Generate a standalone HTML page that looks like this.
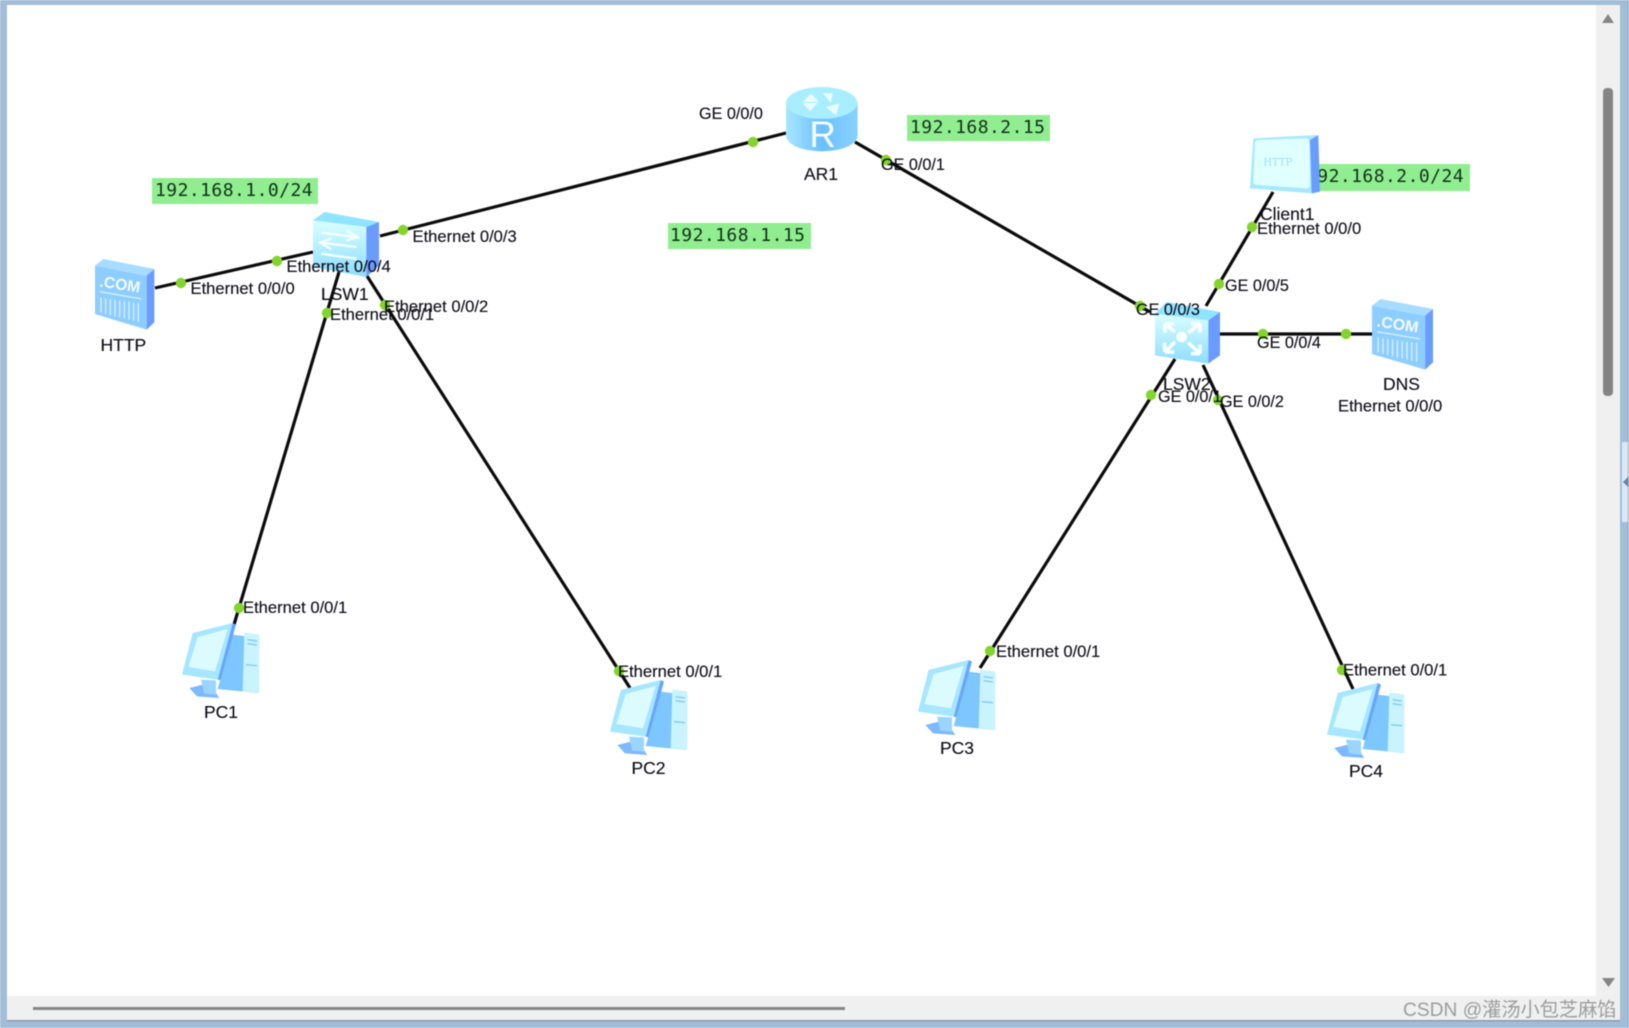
<!DOCTYPE html>
<html><head><meta charset="utf-8"><style>
html,body{margin:0;padding:0;background:#fff}
svg{display:block;position:absolute;left:0;top:0;filter:blur(.45px)}
text{font-family:"Liberation Sans",sans-serif;font-size:16.6px;fill:#0c0c16;stroke:#0c0c16;stroke-width:.12px}
.g{font-size:16.2px}
.n{font-size:17.5px}
.m{font-family:"DejaVu Sans Mono","Liberation Mono",monospace;font-size:18px;letter-spacing:.45px;fill:#12301a;stroke:none}
</style></head><body style="width:1629px;height:1028px;overflow:hidden">
<svg width="1629" height="1028" viewBox="0 0 1629 1028" xmlns="http://www.w3.org/2000/svg">
<defs>
<linearGradient id="f" x1="0" y1="0" x2="0" y2="1"><stop offset="0" stop-color="#d9ffff"/><stop offset="1" stop-color="#8fdcff"/></linearGradient>
<linearGradient id="r" x1="0" y1="0" x2="1" y2="0"><stop offset="0" stop-color="#a9e6ff"/><stop offset=".5" stop-color="#6cc0ff"/><stop offset="1" stop-color="#88d2ff"/></linearGradient>
<g id="server">
<polygon points="0,20 155,50 155,212 0,165" fill="#8ecdff"/>
<polygon points="0,20 25,0 178,30 155,50" fill="#a6dcff"/>
<polygon points="155,50 178,30 178,190 155,212" fill="#6a9cff"/>
<text x="12" y="82" transform="rotate(9 12 82)" style="font-size:47px;font-weight:700;fill:#f2fbff;stroke:none">.COM</text>
<path d="M15,98 L140,120 M18,115 V160 M32,118 V165 M46,120 V168 M60,122 V172 M74,124 V175 M88,126 V178 M102,128 V182 M116,130 V185 M130,132 V188" stroke="#d6f1ff" stroke-width="4" fill="none"/>
</g>
<g id="pc">
<polygon points="155,35 235,45 230,210 110,198" fill="#7ec6ff"/>
<polygon points="190,28 235,35 235,210 185,205" fill="#c9f3ff"/>
<path d="M200,50 L228,54 M200,62 L228,66 M195,125 L228,128" stroke="#7fc9f5" stroke-width="4"/>
<polygon points="35,30 155,0 110,170 3,155" fill="#a6e6ff"/>
<polygon points="50,42 140,18 102,145 22,132" fill="#dcfbff"/>
<polygon points="155,0 165,5 118,172 110,170" fill="#66a6ff"/>
<polygon points="25,195 85,180 115,225 48,220" fill="#7eb8ff"/>
<polygon points="60,170 105,172 105,215 70,212" fill="#9bd5ff"/>
</g>
</defs>
<rect width="1629" height="1028" fill="#a2bdd8"/>
<rect x="7" y="5" width="1613" height="1015" fill="#f0f0f0"/>
<rect x="7" y="1020" width="1613" height="1.5" fill="#8c9aaa"/>
<rect x="7" y="5" width="1589" height="991" fill="#fff"/>
<rect x="33" y="1007" width="812" height="3" fill="#858585"/>
<rect x="1603" y="88" width="10" height="308" rx="4" fill="#858585"/>
<polygon points="1602,23 1614,23 1608,14" fill="#858585"/>
<polygon points="1602,978 1615,978 1608.5,987" fill="#858585"/>
<rect x="1622" y="442" width="7" height="80" fill="#dce9f5"/>
<polygon points="1623,482 1629,476 1629,488" fill="#5f86a8"/>
<rect x="1627.5" y="0" width="1.5" height="1028" fill="#8ba4bc" opacity=".6"/>

<rect x="152" y="178" width="166" height="26" fill="#90ee90"/>
<rect x="907" y="115" width="143" height="26" fill="#90ee90"/>
<rect x="668" y="223" width="143" height="26" fill="#90ee90"/>
<rect x="1300" y="164" width="170" height="27" fill="#90ee90"/>
<text class="m" x="155" y="196">192.168.1.0/24</text>
<text class="m" x="910" y="133">192.168.2.15</text>
<text class="m" x="670" y="241">192.168.1.15</text>
<text class="m" x="1306" y="182">192.168.2.0/24</text>

<g stroke="#0a0a0a" stroke-width="3.2" fill="none">
<line x1="155" y1="288" x2="313" y2="252"/>
<line x1="380" y1="236" x2="786" y2="133"/>
<line x1="855" y1="142" x2="1150" y2="312"/>
<line x1="339" y1="272" x2="233" y2="628"/>
<line x1="367" y1="276" x2="630" y2="688"/>
<line x1="1273" y1="192" x2="1206" y2="306"/>
<line x1="1220" y1="334" x2="1372" y2="334"/>
<line x1="1175" y1="359" x2="980" y2="668"/>
<line x1="1203" y1="365" x2="1353" y2="689"/>
</g>
<g fill="#84d42e">
<circle cx="181" cy="283" r="5.2"/><circle cx="277" cy="261" r="5.2"/><circle cx="403" cy="230" r="5.2"/>
<circle cx="327" cy="313" r="5.2"/><circle cx="385" cy="305" r="5.2"/><circle cx="753" cy="142" r="5.2"/>
<circle cx="886" cy="160" r="5.2"/><circle cx="1252" cy="227" r="5.2"/><circle cx="1219" cy="284" r="5.2"/>
<circle cx="1140" cy="306" r="5.2"/><circle cx="1263" cy="334" r="5.2"/><circle cx="1346" cy="334" r="5.2"/>
<circle cx="1151" cy="395" r="5.2"/><circle cx="1218" cy="400" r="5.2"/><circle cx="239" cy="608" r="5.2"/>
<circle cx="619" cy="671" r="5.2"/><circle cx="990" cy="651" r="5.2"/><circle cx="1342" cy="670" r="5.2"/>
</g>

<use href="#server" transform="translate(95,259) scale(.3333)"/>
<use href="#server" transform="translate(1372,299) scale(.3427,.3333)"/>

<g transform="translate(313,212) scale(.3333)">
<polygon points="0,25 160,45 160,195 0,165" fill="url(#f)"/>
<polygon points="0,25 35,0 198,30 160,45" fill="#90e4ff"/>
<polygon points="160,45 198,30 198,160 160,195" fill="#6a9cff"/>
<path d="M25,62 L130,75 M100,55 L135,76 L100,85 M130,105 L25,92 M55,80 L22,92 L55,112 M25,125 L130,140" stroke="#f5ffff" stroke-width="7" fill="none"/>
</g>
<g transform="translate(1155,302) scale(.3333)">
<polygon points="0,35 160,55 160,185 0,160" fill="url(#f)"/>
<polygon points="0,35 35,0 195,30 160,55" fill="#90e4ff"/>
<polygon points="160,55 195,30 195,160 160,185" fill="#6a9cff"/>
<circle cx="80" cy="105" r="16" fill="#f8ffff"/>
<path d="M30,65 L60,90 M30,65 L58,65 M30,65 L30,92 M135,65 L100,92 M135,65 L108,65 M135,65 L135,92 M30,150 L60,120 M30,150 L28,122 M30,150 L58,150 M135,155 L100,122 M135,155 L135,128 M135,155 L108,155" stroke="#f8ffff" stroke-width="11" fill="none"/>
</g>
<g transform="translate(786,87) scale(.3333)">
<path d="M0,48 V145 A107,48 0 0 0 215,145 V48 Z" fill="url(#r)"/>
<ellipse cx="107" cy="48" rx="107" ry="48" fill="#a9eeff"/>
<path d="M50,48 L95,48 L72,72 Z M110,18 L140,18 L135,48 Z M120,60 L160,50 L150,85 Z M75,20 L100,45 L50,45 Z" fill="#eafcff"/>
<text x="70" y="180" style="font-size:110px;fill:#f5ffff;stroke:none">R</text>
</g>
<g transform="translate(1250,135) scale(.3333)">
<polygon points="10,10 200,0 210,170 185,175 0,160" fill="#a8e8ff"/>
<polygon points="180,15 205,0 210,170 185,175" fill="#6a9cff"/>
<path d="M25,15 L170,10 Q178,10 178,20 L180,150 Q180,160 170,160 L20,150 Q10,148 10,140 L15,25 Q15,16 25,15 Z" fill="#e0ffff"/>
<text x="40" y="92" style="font-family:'DejaVu Serif','Liberation Serif',serif;font-size:30px;fill:#9fdcf5;stroke:none">HTTP</text>
</g>
<use href="#pc" transform="translate(181,623) scale(.3333)"/>
<use href="#pc" transform="translate(609,680) scale(.3333)"/>
<use href="#pc" transform="translate(917,660) scale(.3333)"/>
<use href="#pc" transform="translate(1326,683) scale(.3333)"/>

<text x="190.5" y="294">Ethernet 0/0/0</text>
<text x="286.5" y="272">Ethernet 0/0/4</text>
<text x="412.5" y="242">Ethernet 0/0/3</text>
<text x="384" y="312">Ethernet 0/0/2</text>
<text x="330" y="320">Ethernet 0/0/1</text>
<text class="g" x="699" y="119">GE 0/0/0</text>
<text class="g" x="881" y="170">GE 0/0/1</text>
<text x="1257" y="234">Ethernet 0/0/0</text>
<text class="g" x="1225" y="291">GE 0/0/5</text>
<text class="g" x="1136" y="315">GE 0/0/3</text>
<text class="g" x="1257" y="348">GE 0/0/4</text>
<text class="g" x="1158" y="402">GE 0/0/1</text>
<text class="g" x="1220" y="407">GE 0/0/2</text>
<text x="1338" y="411.5">Ethernet 0/0/0</text>
<text x="243" y="613">Ethernet 0/0/1</text>
<text x="618" y="677">Ethernet 0/0/1</text>
<text x="996" y="657">Ethernet 0/0/1</text>
<text x="1343" y="675.5">Ethernet 0/0/1</text>

<text class="n" x="321" y="300">LSW1</text>
<text class="n" x="100.5" y="351">HTTP</text>
<text class="n" x="804" y="180">AR1</text>
<text class="n" x="1260" y="220">Client1</text>
<text class="n" x="1163" y="390">LSW2</text>
<text class="n" x="1383" y="390">DNS</text>
<text class="n" x="204" y="718">PC1</text>
<text class="n" x="631.5" y="774">PC2</text>
<text class="n" x="940" y="754">PC3</text>
<text class="n" x="1349" y="777">PC4</text>

<text x="1403" y="1016" style="font-family:'Liberation Sans','Noto Sans CJK SC',sans-serif;font-size:19.2px;fill:#9c9c9c;stroke:none">CSDN @灌汤小包芝麻馅</text>
</svg>
</body></html>
